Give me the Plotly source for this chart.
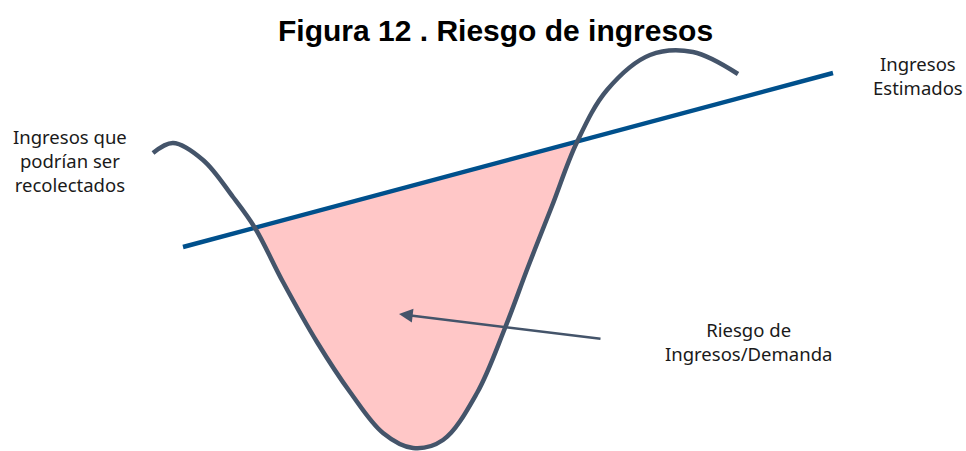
import plotly.graph_objects as go

# Curve of revenues that could be collected (read in picture pixel units)
curve_x = [153, 173, 203, 233, 255, 283, 317, 350, 383, 413, 443, 477, 505, 528, 552, 577,
           607, 650, 693, 738]
curve_y = [153, 143, 160, 197, 228, 282, 342, 392, 433, 448, 440, 393, 328, 267, 206, 142,
           90, 55, 52, 74]

# Estimated revenue line
line_x = [183, 833]
line_y = [247, 73]

# Intersections bounding the risk area (indices in curve arrays)
i_start, i_end = 4, 15

title_text = "Figura 12 . Riesgo de ingresos"
label_curve = "Ingresos que<br>podrían ser<br>recolectados"
label_line = "Ingresos<br>Estimados"
label_risk = "Riesgo de<br>Ingresos/Demanda"
arrow_tail = (602, 339)
arrow_head = (399, 314)

CURVE_COLOR = "#44546A"
LINE_COLOR = "#00508C"
FILL_COLOR = "#FFC7C7"

fig = go.Figure()

# Line segment between intersections (base for fill)
seg_x = [curve_x[i_start], curve_x[i_end]]
seg_y = [curve_y[i_start], curve_y[i_end]]
fig.add_trace(go.Scatter(x=seg_x[::-1], y=seg_y[::-1], mode="lines",
                         line=dict(width=0, color=FILL_COLOR), hoverinfo="skip"))
fig.add_trace(go.Scatter(x=curve_x[i_start:i_end + 1], y=curve_y[i_start:i_end + 1],
                         mode="lines", line=dict(width=0, color=FILL_COLOR, shape="spline", smoothing=1.0),
                         fill="tonexty", fillcolor=FILL_COLOR, hoverinfo="skip"))

# Estimated revenue line
fig.add_trace(go.Scatter(x=line_x, y=line_y, mode="lines",
                         line=dict(width=4.5, color=LINE_COLOR), hoverinfo="skip"))

# Wavy curve
fig.add_trace(go.Scatter(x=curve_x, y=curve_y, mode="lines",
                         line=dict(width=4.5, color=CURVE_COLOR, shape="spline", smoothing=1.0),
                         hoverinfo="skip"))

label_font = dict(family="Noto Sans", size=18.5, color="#1a1a1a")

fig.add_annotation(x=70, y=160, text=label_curve, showarrow=False, font=label_font,
                   xref="x", yref="y", align="center")
fig.add_annotation(x=918, y=75, text=label_line, showarrow=False, font=label_font,
                   xref="x", yref="y", align="center")
fig.add_annotation(x=748, y=341, text=label_risk, showarrow=False, font=label_font,
                   xref="x", yref="y", align="center")

fig.add_annotation(x=arrow_head[0], y=arrow_head[1], ax=arrow_tail[0], ay=arrow_tail[1],
                   xref="x", yref="y", axref="x", ayref="y", text="", showarrow=True,
                   arrowhead=2, arrowsize=1.1, arrowwidth=2.5, arrowcolor=CURVE_COLOR)

fig.add_annotation(x=495, y=30, text="<b>" + title_text + "</b>", showarrow=False,
                   font=dict(family="Liberation Sans", size=30, color="#000000"),
                   xref="x", yref="y")

fig.update_layout(
    width=966, height=451,
    margin=dict(l=0, r=0, t=0, b=0),
    paper_bgcolor="white", plot_bgcolor="white",
    showlegend=False,
    xaxis=dict(range=[0, 966], visible=False, fixedrange=True),
    yaxis=dict(range=[451, 0], visible=False, fixedrange=True),
)

fig.write_html("out.html", config={"displayModeBar": False},
               post_script="document.body.style.margin='0';document.body.style.overflow='hidden';")
